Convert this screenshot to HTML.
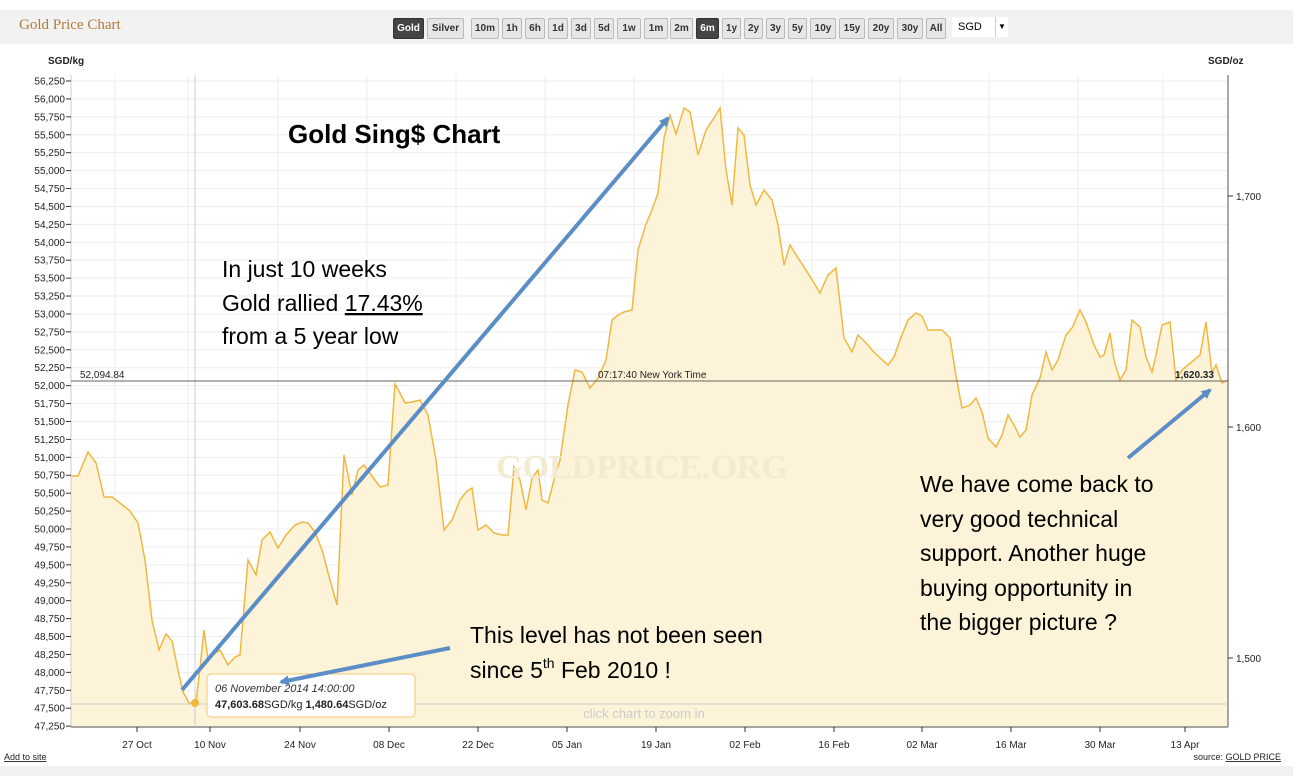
<!DOCTYPE html>
<html><head><meta charset="utf-8"><style>
body{margin:0;width:1293px;height:784px;background:#fff;font-family:"Liberation Sans",sans-serif;overflow:hidden;position:relative}
.top{position:absolute;left:0;top:10px;width:1293px;height:34px;background:#f2f2f2}
.title{position:absolute;left:19px;top:17px;font-family:"Liberation Serif",serif;font-size:15px;color:#b5793a}
.btn{position:absolute;top:18px;height:19px;border:1px solid #bbb;border-radius:2px;background:#e6e6e6;font-size:10px;font-weight:bold;line-height:19px;text-align:center;color:#333}
.btn.on{background:#444;color:#fff;border-color:#333}
.bot{position:absolute;left:0;top:766px;width:1293px;height:10px;background:#f2f2f2}
</style></head><body>
<div class="top"></div>
<div class="title">Gold Price Chart</div>
<div class="btn on" style="left:393px;width:29px">Gold</div>
<div class="btn" style="left:427px;width:35px">Silver</div>
<div class="btn" style="left:471px;width:26px">10m</div>
<div class="btn" style="left:502px;width:18px">1h</div>
<div class="btn" style="left:525px;width:18px">6h</div>
<div class="btn" style="left:548px;width:18px">1d</div>
<div class="btn" style="left:571px;width:18px">3d</div>
<div class="btn" style="left:594px;width:18px">5d</div>
<div class="btn" style="left:617px;width:22px">1w</div>
<div class="btn" style="left:644px;width:22px">1m</div>
<div class="btn" style="left:670px;width:21px">2m</div>
<div class="btn on" style="left:696px;width:21px">6m</div>
<div class="btn" style="left:722px;width:17px">1y</div>
<div class="btn" style="left:744px;width:17px">2y</div>
<div class="btn" style="left:766px;width:17px">3y</div>
<div class="btn" style="left:788px;width:17px">5y</div>
<div class="btn" style="left:810px;width:24px">10y</div>
<div class="btn" style="left:839px;width:24px">15y</div>
<div class="btn" style="left:868px;width:24px">20y</div>
<div class="btn" style="left:897px;width:24px">30y</div>
<div class="btn" style="left:926px;width:18px">All</div>
<div style="position:absolute;left:952px;top:17px;width:56px;height:20px;background:#fff;font-size:11px;line-height:20px;padding-left:6px;box-sizing:border-box">SGD<span style="position:absolute;right:0;top:0;width:12px;border-left:1px solid #ccc;font-size:8px;text-align:center">▼</span></div>
<div class="bot"></div>
<svg width="1293" height="784" style="position:absolute;left:0;top:0">
<defs><marker id="ah" markerWidth="10" markerHeight="10" refX="8" refY="5" orient="auto" markerUnits="userSpaceOnUse"><path d="M0,0 L10,5 L0,10 z" fill="#5b8ec6"/></marker></defs>
<g font-size="10" fill="#222" font-family="Liberation Sans">
<text x="48" y="64" font-weight="bold">SGD/kg</text>
<text x="1208" y="64" font-weight="bold">SGD/oz</text>
</g>
<g id="grid" stroke="#eee" stroke-width="1"></g>
<polygon id="area" fill="#fdf3d8" stroke="none"/>
<polyline id="line" fill="none" stroke="#f0b840" stroke-width="1.5"/>
<line x1="71" y1="75" x2="71" y2="727" stroke="#ccc"/>
<line x1="1228" y1="75" x2="1228" y2="727" stroke="#555"/>
<line x1="71" y1="727" x2="1228" y2="727" stroke="#888" stroke-width="1.5"/>
<line x1="195" y1="75" x2="195" y2="727" stroke="#ccc"/>
<line x1="71" y1="381" x2="1228" y2="381" stroke="#666"/>
<line x1="71" y1="704" x2="1228" y2="704" stroke="#ccc"/>
<g id="yl" font-size="10" fill="#222" text-anchor="end"></g>
<g font-size="10" fill="#222">
<line x1="1228" y1="196" x2="1233" y2="196" stroke="#333"/><text x="1236" y="200">1,700</text>
<line x1="1228" y1="427" x2="1233" y2="427" stroke="#333"/><text x="1236" y="431">1,600</text>
<line x1="1228" y1="658" x2="1233" y2="658" stroke="#333"/><text x="1236" y="662">1,500</text>
<text x="80" y="378">52,094.84</text>
<text x="598" y="378">07:17:40 New York Time</text>
<text x="1175" y="378" font-weight="bold">1,620.33</text>
</g>
<g id="xl" font-size="10" fill="#222" text-anchor="middle"></g>
<text x="644" y="718" font-size="13" fill="#ccc" text-anchor="middle">click chart to zoom in</text>
<text x="642" y="478" font-size="34" fill="#f3ead2" text-anchor="middle" font-family="Liberation Serif" font-weight="bold">GOLDPRICE.ORG</text>
<text x="4" y="760" font-size="9" fill="#222" text-decoration="underline">Add to site</text>
<text x="1281" y="760" font-size="9" fill="#222" text-anchor="end">source: <tspan text-decoration="underline">GOLD PRICE</tspan></text>
<circle cx="195" cy="703" r="4" fill="#f0b840"/>
<rect x="207" y="674" width="208" height="43" rx="4" fill="#fff" stroke="#f0c870"/>
<text x="215" y="692" font-size="11" font-style="italic" fill="#333">06 November 2014 14:00:00</text>
<text x="215" y="708" font-size="11" fill="#222"><tspan font-weight="bold">47,603.68</tspan>SGD/kg <tspan font-weight="bold">1,480.64</tspan>SGD/oz</text>
<g stroke="#5b8ec6" stroke-width="4" marker-end="url(#ah)">
<line x1="182" y1="690" x2="668" y2="118"/>
<line x1="1128" y1="458" x2="1210" y2="390"/>
<line x1="450" y1="648" x2="281" y2="682"/>
</g>
<g font-family="Liberation Sans" fill="#000">
<text x="288" y="143" font-size="26" font-weight="bold">Gold Sing$ Chart</text>
<text x="222" y="277" font-size="23">In just 10 weeks</text>
<text x="222" y="311" font-size="23">Gold rallied <tspan text-decoration="underline">17.43%</tspan></text>
<text x="222" y="344" font-size="23">from a 5 year low</text>
<text x="470" y="643" font-size="23">This level has not been seen</text>
<text x="470" y="678" font-size="23">since 5<tspan font-size="14" dy="-10">th</tspan><tspan dy="10"> Feb 2010 !</tspan></text>
<text x="920" y="492" font-size="23">We have come back to</text>
<text x="920" y="527" font-size="23">very good technical</text>
<text x="920" y="561" font-size="23">support. Another huge</text>
<text x="920" y="596" font-size="23">buying opportunity in</text>
<text x="920" y="630" font-size="23">the bigger picture ?</text>
</g>
</svg>
<script>
var ns="http://www.w3.org/2000/svg";
function el(t,a,p,txt){var e=document.createElementNS(ns,t);for(var k in a)e.setAttribute(k,a[k]);if(txt)e.textContent=txt;document.getElementById(p).appendChild(e);}
for(var i=0;i<=36;i++){var v=56250-i*250,y=81+i*17.92;
el("line",{x1:71,x2:1228,y1:y,y2:y},"grid");
el("line",{x1:66,x2:71,y1:y,y2:y,stroke:"#333"},"yl");
el("text",{x:65,y:y+3.5},"yl",v.toLocaleString("en-US"));}
var xs=[[137,"27 Oct"],[210,"10 Nov"],[300,"24 Nov"],[389,"08 Dec"],[478,"22 Dec"],[567,"05 Jan"],[656,"19 Jan"],[745,"02 Feb"],[834,"16 Feb"],[922,"02 Mar"],[1011,"16 Mar"],[1100,"30 Mar"],[1185,"13 Apr"]];
xs.forEach(function(a){el("line",{x1:a[0]-22,x2:a[0]-22,y1:75,y2:727},"grid");el("line",{x1:a[0],x2:a[0],y1:727,y2:732,stroke:"#333"},"xl");el("text",{x:a[0],y:748},"xl",a[1]);});
var p="71,476 78,476 88,452 96,463 104,497 112,497 120,503 130,511 138,523 145,560 152,620 159,650 166,634 172,641 178,670 183,692 189,703 196,703 200,668 204,630 208,660 212,655 220,650 228,665 235,657 240,655 248,560 256,575 262,540 270,532 278,548 286,535 295,525 302,522 308,523 315,532 322,550 330,580 337,605 344,455 352,495 358,470 364,465 372,476 380,487 388,485 395,384 400,393 405,403 412,402 420,400 428,415 436,460 444,530 452,520 460,500 466,492 472,488 478,530 486,525 494,533 502,535 508,535 514,467 520,480 526,510 532,478 538,470 542,500 548,503 554,480 560,460 568,405 575,370 582,372 590,388 598,378 606,360 612,320 618,315 624,312 632,310 638,250 646,224 652,210 658,193 664,138 670,115 676,134 684,108 690,112 698,155 706,130 714,118 720,108 726,170 732,205 738,128 744,135 750,185 756,205 764,190 772,200 778,225 784,265 790,245 798,258 806,270 814,283 820,293 828,275 836,268 844,338 852,352 858,335 866,343 872,350 880,358 888,365 894,357 900,340 908,320 916,313 922,316 928,330 934,330 942,330 950,338 956,376 962,408 970,405 976,398 982,412 988,438 996,447 1002,435 1008,415 1014,425 1020,437 1026,430 1032,395 1040,378 1046,352 1052,370 1058,360 1066,335 1072,328 1080,310 1086,322 1094,345 1100,357 1104,355 1110,333 1114,360 1120,380 1126,370 1132,320 1140,327 1146,357 1152,372 1156,355 1162,325 1170,322 1176,380 1182,370 1188,365 1194,360 1200,355 1206,322 1212,373 1216,365 1222,383 1228,380";
document.getElementById("line").setAttribute("points",p);
document.getElementById("area").setAttribute("points",p+" 1228,727 71,727");
</script>
</body></html>
